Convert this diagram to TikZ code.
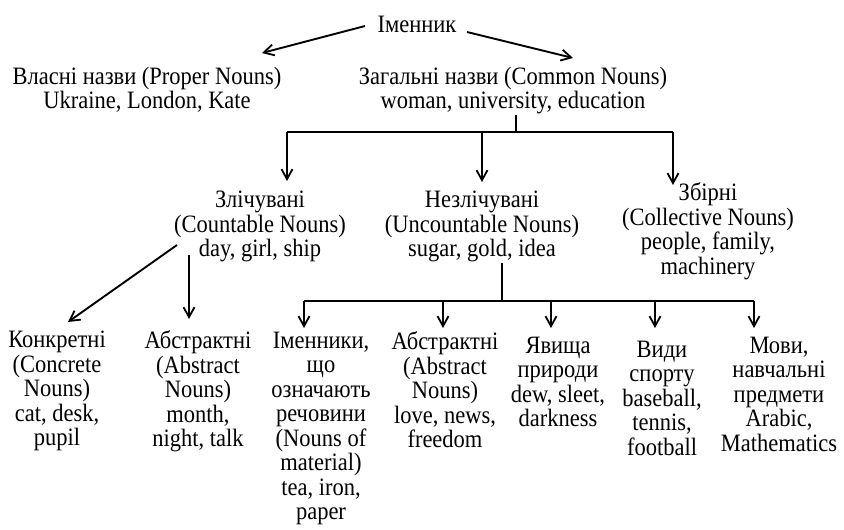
\documentclass[tikz,border=0pt]{standalone}
\usepackage{fontspec}
\setmainfont{Liberation Serif}[FakeStretch=0.9]
\usetikzlibrary{arrows.meta}

\tikzset{
  word/.style={anchor=north, inner sep=0pt, align=center,
    font=\fontsize{25}{24.5}\selectfont, execute at begin node=\strut},
  arr/.style={-{Straight Barb[length=10pt,width=11pt,line width=1.8pt]}},
}

\begin{document}
\begin{tikzpicture}[x=1pt, y=-1pt, line width=1.9pt]
  \useasboundingbox (0,0) rectangle (844,530);
  % top
  \node[word] (root) at (417,14) {Іменник};
  \node[word] (proper) at (147,66) {Власні назви (Proper Nouns)\\ Ukraine, London, Kate};
  \node[word] (common) at (513,66) {Загальні назви (Common Nouns)\\ woman, university, education};
  \coordinate (sproper) at (365,26);
  \coordinate (tproper) at (262,53);
  \coordinate (scommon) at (467,32);
  \coordinate (tcommon) at (573,58);
  \draw[arr] (sproper) -- (tproper);
  \draw[arr] (scommon) -- (tcommon);
  % second level
  \node[word] (count) at (260,190) {Злічувані\\ (Countable Nouns)\\ day, girl, ship};
  \node[word] (uncount) at (482,190) {Незлічувані\\ (Uncountable Nouns)\\ sugar, gold, idea};
  \node[word] (collect) at (708,182) {Збірні\\ (Collective Nouns)\\ people, family,\\ machinery};
  \coordinate (bar1) at (516,132);
  \coordinate (bar1l) at (287,132);
  \coordinate (bar1r) at (673,132);
  \draw (bar1 |- common.south) ++(0,-2) -- (bar1);
  \draw (bar1l) -- (bar1r);
  \draw[arr] (bar1l) -- ++(0,49);
  \draw[arr] (bar1 -| uncount) -- ++(0,50);
  \draw[arr] (bar1r) -- ++(0,53);
  % third level
  \node[word] (concrete) at (57,330) {Конкретні\\ (Concrete\\ Nouns)\\ cat, desk,\\ pupil};
  \node[word] (abstract) at (198,330) {Абстрактні\\ (Abstract\\ Nouns)\\ month,\\ night, talk};
  \node[word] (material) at (321,331) {Іменники,\\ що\\ означають\\ речовини\\ (Nouns of\\ material)\\ tea, iron,\\ paper};
  \node[word] (abstractb) at (445,331) {Абстрактні\\ (Abstract\\ Nouns)\\ love, news,\\ freedom};
  \node[word] (nature) at (558,336) {Явища\\ природи\\ dew, sleet,\\ darkness};
  \node[word] (sport) at (662,340) {Види\\ спорту\\ baseball,\\ tennis,\\ football};
  \node[word] (lang) at (779,336) {Мови,\\ навчальні\\ предмети\\ Arabic,\\ Mathematics};
  \coordinate (sconcrete) at (177,245);
  \coordinate (tconcrete) at (68,322);
  \coordinate (sabstract) at (189,255);
  \coordinate (tabstract) at (189,319);
  \draw[arr] (sconcrete) -- (tconcrete);
  \draw[arr] (sabstract) -- (tabstract);
  \coordinate (bar2) at (502,301);
  \coordinate (bar2l) at (304,301);
  \coordinate (bar2r) at (754,301);
  \draw (bar2 |- uncount.south) ++(0,-2) -- (bar2);
  \draw (bar2l) -- (bar2r);
  \foreach \x in {304,443,551,655,754}
    \draw[arr] (\x,301) -- (\x,328);
\end{tikzpicture}
\end{document}
